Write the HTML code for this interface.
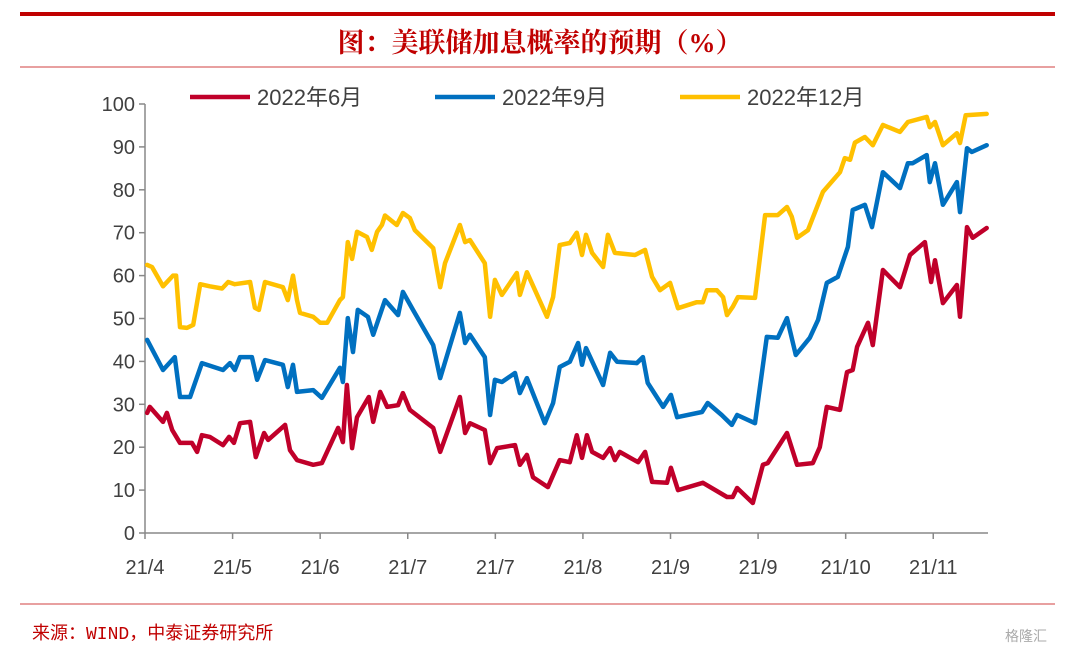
<!DOCTYPE html>
<html><head><meta charset="utf-8">
<style>
html,body{margin:0;padding:0;background:#fff;}
body{width:1080px;height:656px;overflow:hidden;position:relative;font-family:"Liberation Sans","Noto Sans CJK SC",sans-serif;}
</style></head>
<body>
<svg id="chart" width="1080" height="656" xmlns="http://www.w3.org/2000/svg">
<rect x="20" y="12" width="1035" height="4" fill="#c00000"/>
<text x="540" y="52" text-anchor="middle" font-family="'Liberation Serif','Noto Serif CJK SC',serif" font-weight="bold" font-size="27" fill="#c00000">图：美联储加息概率的预期（%）</text>
<line x1="20" y1="67" x2="1055" y2="67" stroke="#d04040" stroke-width="1"/>
<line x1="20" y1="604" x2="1055" y2="604" stroke="#d04040" stroke-width="1"/>
<text x="32" y="639" font-family="'Liberation Mono','Noto Sans CJK SC',monospace" font-size="18" fill="#c00000">来源：WIND，中泰证券研究所</text>
<text x="1005" y="641" font-size="14" fill="#aaa">格隆汇</text>
<g id="legend"></g>
<g id="axes"></g>
<g id="series"></g>
</svg>
<script>
const xTickLabels = ["21/4","21/5","21/6","21/7","21/7","21/8","21/9","21/9","21/10","21/11"];
const yTicks = [0,10,20,30,40,50,60,70,80,90,100];
const seriesNames = ["2022年6月","2022年9月","2022年12月"];
const seriesColors = ["#c0002a","#0070c0","#ffc000"];
const dec22 = [[0.5,62.5],[1.6,62],[4.1,57.5],[6.4,60],[7.1,60],[8,48],[9.6,47.8],[11,48.5],[12.6,58],[14.8,57.5],[17.6,57],[19,58.5],[20.5,58],[24,58.5],[25.1,52.5],[26,52],[27.4,58.5],[31.5,57.3],[32.6,54.3],[33.8,60],[34.7,54.3],[35.4,51.3],[38.4,50.4],[40,49],[41.6,49],[44.5,54.3],[45.2,55],[46.3,67.8],[47.3,63.9],[48.4,70.2],[50.7,69],[51.8,66],[53,70.2],[54.1,71.8],[54.8,74],[57.5,71.8],[58.9,74.6],[60.5,73.4],[61.6,70.6],[65.8,66.4],[67.4,57.3],[68.5,62.9],[71.9,71.8],[73.1,67.8],[74.2,68.3],[77.6,62.9],[78.8,50.4],[79.9,59],[81.5,55.5],[84.9,60.6],[85.6,55.5],[87.2,60.8],[91.8,50.4],[93.2,55],[94.7,67.1],[97,67.6],[98.6,70],[99.8,64.8],[100.7,69.5],[102.1,65.3],[104.6,62],[105.7,69.5],[107.3,65.3],[111.9,64.8],[114.2,66],[115.8,59.7],[117.6,56.6],[119.9,58.3],[121.7,52.4],[126,53.8],[127.4,53.8],[128.3,56.6],[130.6,56.6],[132,55],[132.9,50.8],[134.2,52.7],[135.4,55],[139.3,54.8],[141.6,74.1],[144.5,74.1],[146.6,76],[147.7,73.7],[148.9,68.8],[151.4,70.6],[154.8,79.5],[158.7,84.1],[159.8,87.4],[161,87],[162.1,91],[164.4,92.3],[166.2,90.4],[168.5,95.1],[172.4,93.5],[174.2,95.8],[178.5,97],[179.2,94.6],[180.4,95.8],[182.2,90.4],[185.4,93.2],[186.1,90.9],[187.4,97.4],[192.2,97.7]];
const sep22 = [[0.5,45],[4.1,38],[6.8,41],[8,31.7],[10.3,31.7],[13,39.6],[17.8,38],[19.4,39.6],[20.5,38],[21.7,41],[24.4,41],[25.6,35.7],[27.4,40.3],[31.5,39.2],[32.6,34],[33.8,39.2],[34.7,32.9],[38.4,33.3],[40.4,31.5],[44.5,38.5],[45.2,35.2],[46.3,50.1],[47.5,42.2],[48.6,52],[50.9,50.4],[52.1,46.2],[54.8,54.3],[57.8,50.8],[58.9,56.2],[61.2,52],[65.8,43.8],[67.4,36.1],[71.9,51.3],[73.1,44.3],[74.2,46.2],[77.6,41],[78.8,27.5],[79.9,35.7],[81.5,35.2],[84.5,37.3],[85.6,32.6],[87.2,36.1],[91.3,25.6],[93.2,30.3],[94.7,38.7],[97,39.9],[98.9,44.3],[99.8,39.2],[100.7,43.1],[104.6,34.5],[106.2,42],[107.8,39.9],[112.3,39.6],[113.7,41],[114.8,35],[118.3,29.4],[120.1,32.2],[121.5,27],[127.2,28.2],[128.5,30.3],[131.7,27.5],[134,25.2],[135.2,27.5],[139.3,25.6],[142,45.7],[144.5,45.5],[146.6,50.1],[148.6,41.5],[151.8,45.5],[153.7,49.7],[155.7,58.3],[158.2,59.7],[160.5,66.7],[161.6,75.3],[164.4,76.5],[166,71.3],[168.5,84.1],[172.4,80.4],[174.2,86.2],[175.3,86.2],[178.5,88.1],[179.2,81.8],[180.4,86.2],[182.2,76.5],[185.4,81.8],[186.1,74.8],[187.7,89.7],[188.8,88.8],[192.2,90.4]];
const jun22 = [[0.5,28],[1.1,29.4],[4.1,25.9],[5,28],[6.2,24],[8,21],[10.7,21],[11.9,18.9],[13,22.8],[14.8,22.4],[17.8,20.5],[19.2,22.4],[20.3,21],[21.7,25.6],[24,25.9],[25.3,17.7],[27.2,23.3],[28.1,21.7],[32,25.2],[33.1,19.3],[34.7,17],[38.4,15.9],[40.4,16.3],[44.1,24.5],[45.2,21.2],[46.1,34.5],[47.3,19.8],[48.4,27],[51.1,31.7],[52.1,25.9],[53.7,32.9],[55.3,29.4],[57.8,29.8],[58.9,32.6],[60.5,28.7],[65.8,24.5],[67.4,18.9],[71.9,31.7],[73.1,23.3],[74.2,25.6],[77.6,24],[78.8,16.3],[80.4,19.8],[84.5,20.5],[85.6,15.9],[87.2,18.2],[88.6,13],[92,10.7],[94.7,17],[97,16.5],[98.6,22.8],[99.8,17.5],[100.9,22.8],[102.1,18.9],[104.6,17.5],[106.2,19.8],[107.3,17],[108.4,18.9],[112.6,16.5],[114.2,18.9],[115.8,11.9],[119.2,11.7],[120.1,15.2],[121.7,10],[127.4,11.7],[132.9,8.4],[134.2,8.4],[135.2,10.5],[138.8,7],[141.1,15.9],[142.2,16.3],[146.6,23.3],[148.9,15.9],[152.5,16.3],[154.1,20],[155.7,29.4],[158.7,28.7],[160.3,37.5],[161.6,38],[162.6,43.4],[165.1,49],[166.2,43.8],[168.5,61.3],[172.4,57.3],[174.7,64.8],[178.1,67.8],[179.5,58.5],[180.4,63.6],[182.2,53.6],[185.4,57.8],[186.1,50.4],[187.7,71.3],[189,68.8],[192.2,71.1]];

const NS="http://www.w3.org/2000/svg";
const X0=145,X1=988,XMAX=192.5,Y0=533,Y1=104;
function xs(t){return X0+(X1-X0)*t/XMAX;}
function ys(v){return Y0-(Y0-Y1)*v/100;}
function mk(tag,attrs,parent,text){const e=document.createElementNS(NS,tag);for(const k in attrs)e.setAttribute(k,attrs[k]);if(text!==undefined)e.textContent=text;parent.appendChild(e);return e;}
const axes=document.getElementById('axes');
let a=mk('line',{x1:X0,y1:Y1,x2:X0,y2:Y0,stroke:'#888','stroke-width':1.5},axes);


a=mk('line',{x1:X0,y1:Y0,x2:X1,y2:Y0,stroke:'#888','stroke-width':1.5},axes);


yTicks.forEach(v=>{
  const tk=mk('line',{x1:X0-6,y1:ys(v),x2:X0,y2:ys(v),stroke:'#888','stroke-width':1.5},axes);
  
  
  const t=mk('text',{x:X0-10,y:ys(v)+7,'text-anchor':'end','font-size':20,fill:'#404040'},axes,String(v));
  
  
});
xTickLabels.forEach((lab,i)=>{
  const x=xs(i*20);
  const tk=mk('line',{x1:x,y1:Y0,x2:x,y2:Y0+6,stroke:'#888','stroke-width':1.5},axes);
  
  
  const t=mk('text',{x:x,y:574,'text-anchor':'middle','font-size':20,fill:'#404040'},axes,lab);
  
  
});
const ser=document.getElementById('series');
[jun22,sep22,dec22].forEach((d,i)=>{
  const p=mk('polyline',{points:d.map(q=>xs(q[0]).toFixed(1)+','+ys(q[1]).toFixed(1)).join(' '),fill:'none',stroke:seriesColors[i],'stroke-width':4.5,'stroke-linejoin':'round','stroke-linecap':'round'},ser);
  
  
});
const leg=document.getElementById('legend');
const legX=[190,435,680];
seriesNames.forEach((n,i)=>{
  const l=mk('line',{x1:legX[i],y1:97,x2:legX[i]+60,y2:97,stroke:seriesColors[i],'stroke-width':4.5},leg);
  
  
  const t=mk('text',{x:legX[i]+67,y:105,'font-size':22,fill:'#404040'},leg,n);
  
  
});
</script>
</body></html>
